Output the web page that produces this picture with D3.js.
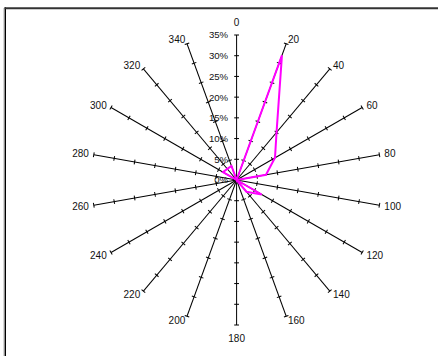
<!DOCTYPE html>
<html>
<head>
<meta charset="utf-8">
<script src="https://cdn.jsdelivr.net/npm/d3@7"></script>
<style>
  html, body { margin: 0; padding: 0; background: #fff; }
  svg { display: block; }
  text { font-family: "Liberation Sans", Arial, sans-serif; fill: #111; }
</style>
</head>
<body>
<svg id="chart" width="438" height="356"></svg>
<script>
// Direction categories (degrees) and the share of observations in each one (%)
const directions = [0, 20, 40, 60, 80, 100, 120, 140, 160, 180, 200, 220, 240, 260, 280, 300, 320, 340];
const shares     = [0, 32, 15, 10.7, 7.2, 0, 7, 3.7, 0, 0, 0, 0, 0, 0, 0, 3.8, 3.5, 3.6];
// Radial tick values (%)
const radialTicks = [0, 5, 10, 15, 20, 25, 30, 35];

const svg = d3.select("#chart");
const cx = 236.6, cy = 180, R = 145;

// Outer frame (top and left edges)
svg.append("line").attr("x1", 3.8).attr("y1", 8).attr("x2", 3.8).attr("y2", 356)
  .attr("stroke", "#c8c8c8").attr("stroke-width", 1);
svg.append("line").attr("x1", 5.3).attr("y1", 7.3).attr("x2", 5.3).attr("y2", 356)
  .attr("stroke", "#000").attr("stroke-width", 1.4);
svg.append("line").attr("x1", 4.6).attr("y1", 8.3).attr("x2", 438).attr("y2", 8.3)
  .attr("stroke", "#333").attr("stroke-width", 2);

const r = d3.scaleLinear().domain([0, 35]).range([0, R]);
const rad = d => d * Math.PI / 180;

const g = svg.append("g").attr("transform", `translate(${cx},${cy})`);

// Percent labels along the 0° spoke
g.selectAll("text.pct").data(radialTicks).join("text")
  .attr("class", "pct")
  .attr("x", -8.5)
  .attr("y", d => -r(d))
  .attr("dy", "0.35em")
  .attr("text-anchor", "end")
  .attr("font-size", 9.6)
  .text(d => d + "%");

// Spokes with cross ticks
const spokes = g.selectAll("g.spoke").data(directions).join("g")
  .attr("class", "spoke")
  .attr("transform", d => `rotate(${d})`);
spokes.append("line")
  .attr("x1", 0).attr("y1", 0).attr("x2", 0).attr("y2", -r(35))
  .attr("stroke", "#000").attr("stroke-width", 1);
spokes.selectAll("line.tick").data(radialTicks.filter(t => t > 0)).join("line")
  .attr("class", "tick")
  .attr("x1", -2.4).attr("x2", 2.4)
  .attr("y1", d => -r(d)).attr("y2", d => -r(d))
  .attr("stroke", "#000").attr("stroke-width", 1);

// Direction labels at the spoke ends
g.selectAll("text.dir").data(directions).join("text")
  .attr("class", "dir")
  .attr("font-size", 10)
  .each(function(d) {
    const s = Math.sin(rad(d)), c = Math.cos(rad(d));
    const vertical = Math.abs(s) < 0.1;
    const dist = vertical ? R + 13 : R + 5;
    d3.select(this)
      .attr("x", dist * s)
      .attr("y", -dist * c)
      .attr("dy", "0.35em")
      .attr("text-anchor", vertical ? "middle" : (s > 0 ? "start" : "end"))
      .text(d);
  });

// Data polygon
const line = d3.lineRadial()
  .angle(d => rad(d[0]))
  .radius(d => r(d[1]))
  .curve(d3.curveLinearClosed);
g.append("path")
  .datum(directions.map((d, i) => [d, shares[i]]))
  .attr("d", line)
  .attr("fill", "none")
  .attr("stroke", "#ff00ff")
  .attr("stroke-width", 2)
  .attr("stroke-linejoin", "miter");
</script>
</body>
</html>
